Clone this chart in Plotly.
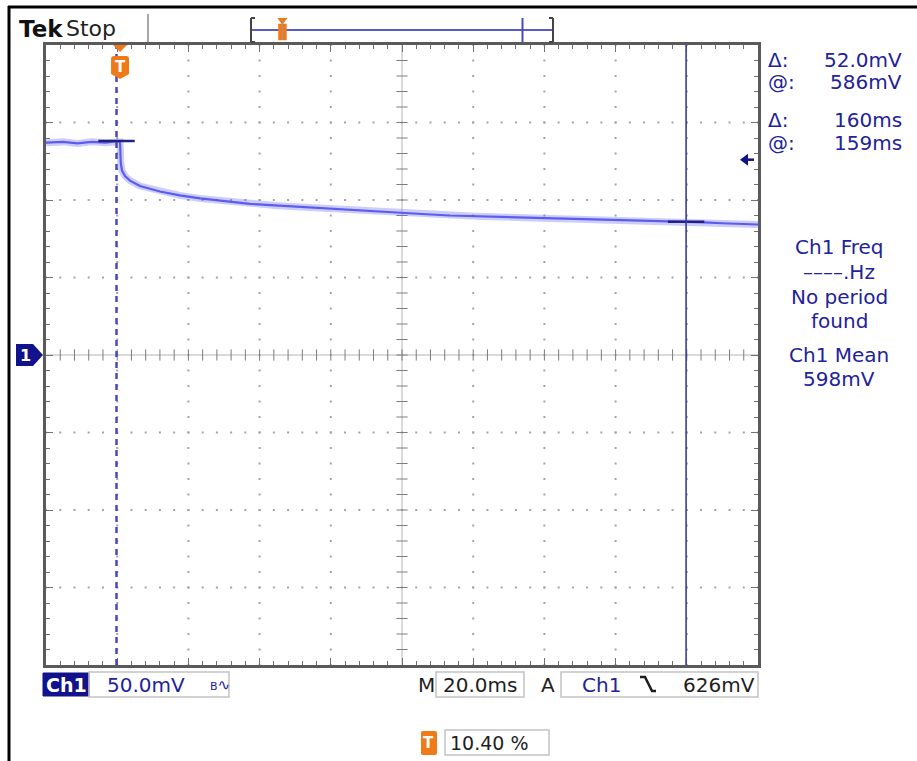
import plotly.graph_objects as go

# ---- acquisition settings -------------------------------------------------
VOLTS_PER_DIV = 50.0        # mV / div
TIME_PER_DIV = 20.0         # ms / div
OFFSET_MV = 500.0           # level at screen centre
TRIGGER_PCT = 10.40         # trigger position, % of record
TRIGGER_LEVEL_MV = 626.0
H_DIVS = 10
V_DIVS = 8
MINOR_PER_DIV = 5

# ---- Ch1 waveform (time relative to trigger) ------------------------------
time_ms = [-20.8, -16.0, -12.0, -8.0, -4.0, -1.0, 0.0, 0.2, 0.55, 1.4,
           2.8, 5.6, 11.2, 16.8, 22.5, 30.0, 36.5, 43.5, 50.6, 57.5,
           64.6, 72.0, 79.8, 86.0, 92.7, 100.0, 106.7, 113.5, 120.8, 127.8,
           134.8, 141.8, 148.9, 154.0, 159.0, 164.0, 169.0, 174.0, 179.2]
ch1_mv = [637.0, 637.5, 636.5, 637.5, 637.0, 638.0, 637.5, 624.0, 619.0, 615.5,
          612.5, 609.0, 605.5, 603.0, 601.0, 599.0, 597.5, 596.5, 595.5, 594.5,
          593.5, 592.5, 591.5, 590.8, 590.0, 589.5, 589.0, 588.5, 588.0, 587.5,
          587.0, 586.8, 586.5, 586.2, 586.0, 585.6, 585.0, 584.6, 584.2]

# ---- cursors and measurements --------------------------------------------
cursor_t = [-1.0, 159.0]     # ms
cursor_v = [638.0, 586.0]    # mV
meas_lines = ["Ch1 Freq", "––––.Hz", "No period", "found", "Ch1 Mean", "598mV"]

# ---- colours --------------------------------------------------------------
NAVY = "#12128c"
TEXT_BLUE = "#22229a"
ORANGE = "#f07a18"
DARK = "#1e1e1e"
BORDER = "#5a5a5a"
BOX = "#c4c4c4"
FONT = "DejaVu Sans"

# ---- screen geometry (pixels in the 917x761 page) -------------------------
L, R, T, B = 46, 758, 45, 665
W, H = R - L, B - T


def px(x):
    return (x - L) / W


def py(y):
    return (B - y) / H


t_span = H_DIVS * TIME_PER_DIV
t_min = -TRIGGER_PCT / 100.0 * t_span
t_max = t_min + t_span
v_min = OFFSET_MV - V_DIVS / 2 * VOLTS_PER_DIV
v_max = OFFSET_MV + V_DIVS / 2 * VOLTS_PER_DIV
t_center = (t_min + t_max) / 2
t_minor = TIME_PER_DIV / MINOR_PER_DIV
v_minor = VOLTS_PER_DIV / MINOR_PER_DIV

fig = go.Figure()

# ---- graticule: dotted division lines -------------------------------------
dot_x, dot_y = [], []
for i in range(1, H_DIVS):
    if i == H_DIVS // 2:
        continue
    xg = t_min + i * TIME_PER_DIV
    for k in range(V_DIVS * MINOR_PER_DIV + 1):
        dot_x.append(xg)
        dot_y.append(v_min + k * v_minor)
for j in range(1, V_DIVS):
    if j == V_DIVS // 2:
        continue
    yg = v_min + j * VOLTS_PER_DIV
    for k in range(H_DIVS * MINOR_PER_DIV + 1):
        dot_x.append(t_min + k * t_minor)
        dot_y.append(yg)
fig.add_trace(go.Scatter(x=dot_x, y=dot_y, mode="markers", hoverinfo="skip",
                         marker=dict(symbol="square", size=2, color="#a4a4a4",
                                     line=dict(width=0))))

# centre cross with minor ticks
fig.add_trace(go.Scatter(x=[t_min, t_max], y=[OFFSET_MV, OFFSET_MV], mode="lines",
                         line=dict(color="#b4b4b4", width=1), hoverinfo="skip"))
fig.add_trace(go.Scatter(x=[t_center, t_center], y=[v_min, v_max], mode="lines",
                         line=dict(color="#b4b4b4", width=1), hoverinfo="skip"))
cx = [t_min + k * t_minor for k in range(1, H_DIVS * MINOR_PER_DIV)]
fig.add_trace(go.Scatter(x=cx, y=[OFFSET_MV] * len(cx), mode="markers", hoverinfo="skip",
                         marker=dict(symbol="line-ns", size=8,
                                     line=dict(width=1, color="#7c7c7c"))))
cy = [v_min + k * v_minor for k in range(1, V_DIVS * MINOR_PER_DIV)]
fig.add_trace(go.Scatter(x=[t_center] * len(cy), y=cy, mode="markers", hoverinfo="skip",
                         marker=dict(symbol="line-ew", size=8,
                                     line=dict(width=1, color="#7c7c7c"))))

# ---- waveform -------------------------------------------------------------
fig.add_trace(go.Scatter(x=time_ms, y=ch1_mv, mode="lines", hoverinfo="skip",
                         line=dict(color="rgba(112,112,246,0.35)", width=7)))
fig.add_trace(go.Scatter(x=time_ms, y=ch1_mv, mode="lines", hoverinfo="skip",
                         line=dict(color="rgba(80,80,236,0.9)", width=2.2)))

# ---- cursors --------------------------------------------------------------
shapes = []
shapes.append(dict(type="line", xref="x", yref="y", x0=cursor_t[0], x1=cursor_t[0],
                   y0=v_min, y1=v_max, line=dict(color="#4848c2", width=2.5, dash="6px,5px")))
shapes.append(dict(type="line", xref="x", yref="y", x0=cursor_t[1], x1=cursor_t[1],
                   y0=v_min, y1=v_max, line=dict(color="#3a3aa6", width=1.6)))
fig.add_trace(go.Scatter(x=cursor_t, y=cursor_v, mode="markers", hoverinfo="skip",
                         marker=dict(symbol="line-ew", size=26,
                                     line=dict(width=2.5, color="#22227c"))))

# trigger position badge on the top edge
shapes.append(dict(type="path", xref="x", yref="paper", xsizemode="pixel", ysizemode="pixel",
                   xanchor=0, yanchor=1, path="M-7,0 L7,0 L0,-7 Z",
                   fillcolor=ORANGE, line=dict(width=0)))
shapes.append(dict(type="path", xref="x", yref="paper", xsizemode="pixel", ysizemode="pixel",
                   xanchor=0, yanchor=1,
                   path="M-9,-14 Q-9,-11 -6,-11 L6,-11 Q9,-11 9,-14 L9,-29 L0,-34 L-9,-29 Z",
                   fillcolor=ORANGE, line=dict(width=0)))

# trigger level arrow at the right edge
shapes.append(dict(type="path", xref="paper", yref="y", xsizemode="pixel", ysizemode="pixel",
                   xanchor=1, yanchor=TRIGGER_LEVEL_MV, path="M-18,0 L-10,6 L-10,-6 Z",
                   fillcolor=NAVY, line=dict(width=0)))
shapes.append(dict(type="path", xref="paper", yref="y", xsizemode="pixel", ysizemode="pixel",
                   xanchor=1, yanchor=TRIGGER_LEVEL_MV, path="M-11,0 L-4,0",
                   line=dict(color=NAVY, width=2.5)))

# channel 1 reference tag at the left edge
shapes.append(dict(type="path", xref="paper", yref="y", xsizemode="pixel", ysizemode="pixel",
                   xanchor=0, yanchor=OFFSET_MV,
                   path="M-30,-11 L-13,-11 L-3,0 L-13,11 L-30,11 Z",
                   fillcolor=NAVY, line=dict(width=0)))

# ---- frame and status bars -------------------------------------------------
def pline(x0, y0, x1, y1, color, width):
    shapes.append(dict(type="line", xref="paper", yref="paper", x0=px(x0), y0=py(y0),
                       x1=px(x1), y1=py(y1), line=dict(color=color, width=width)))


def prect(x0, y0, x1, y1, fill=None, color=BOX, width=1.5):
    shapes.append(dict(type="rect", xref="paper", yref="paper", x0=px(x0), y0=py(y0),
                       x1=px(x1), y1=py(y1), fillcolor=fill or "rgba(0,0,0,0)",
                       line=dict(color=color, width=width)))


pline(8, 7, 920, 7, "#000000", 3)
pline(9, 6, 9, 765, "#000000", 3)
pline(148, 14, 148, 42, "#a8a8a8", 2)

# record view bar
bar_l, bar_r, bar_y = 251, 553, 30
pline(bar_l, bar_y, bar_r, bar_y, "#5a5ac8", 2)
pline(bar_l, 18, bar_l, 42, "#444444", 2)
pline(bar_l, 18, bar_l + 4, 18, "#444444", 2)
pline(bar_l, 42, bar_l + 4, 42, "#444444", 2)
pline(bar_r, 18, bar_r, 42, "#444444", 2)
pline(bar_r - 4, 18, bar_r, 18, "#444444", 2)
pline(bar_r - 4, 42, bar_r, 42, "#444444", 2)
cur_frac = (cursor_t[1] - t_min) / t_span
cx_bar = bar_l + cur_frac * (bar_r - bar_l)
pline(cx_bar, 18, cx_bar, 42, "#4a4ac0", 2)
tx_bar = bar_l + TRIGGER_PCT / 100.0 * (bar_r - bar_l)
prect(tx_bar - 4, 24, tx_bar + 4, 40, fill=ORANGE, color=ORANGE, width=0.5)
shapes.append(dict(type="path", xref="paper", yref="paper",
                   path=f"M{px(tx_bar-5)},{py(18)} L{px(tx_bar+5)},{py(18)} L{px(tx_bar)},{py(25)} Z",
                   fillcolor=ORANGE, line=dict(width=0)))
pline(tx_bar, 20, tx_bar, 40, "#9a9a9a", 1)

# bottom status boxes
prect(43, 673, 89, 696, fill=NAVY, color=NAVY, width=1)
prect(89, 672, 229, 697)
prect(436, 672, 524, 697)
prect(561, 672, 758, 697)
prect(445, 730, 549, 755)
shapes.append(dict(type="path", xref="paper", yref="paper",
                   path=(f"M{px(421)},{py(733)} Q{px(421)},{py(731)} {px(423)},{py(731)} "
                         f"L{px(435)},{py(731)} Q{px(437)},{py(731)} {px(437)},{py(733)} "
                         f"L{px(437)},{py(753)} Q{px(437)},{py(755)} {px(435)},{py(755)} "
                         f"L{px(423)},{py(755)} Q{px(421)},{py(755)} {px(421)},{py(753)} Z"),
                   fillcolor=ORANGE, line=dict(width=0)))
# falling slope glyph
shapes.append(dict(type="path", xref="paper", yref="paper",
                   path=f"M{px(640)},{py(677)} L{px(645)},{py(677)} L{px(652)},{py(691)} L{px(656)},{py(691)}",
                   line=dict(color=DARK, width=2.5)))

# ---- text -----------------------------------------------------------------
ann = []


def text(s, x, y, size, color, anchor="left", bold=False):
    ann.append(dict(text=f"<b>{s}</b>" if bold else s, xref="paper", yref="paper",
                    x=px(x), y=py(y), xanchor=anchor, yanchor="middle", showarrow=False,
                    font=dict(family=FONT, size=size, color=color)))


text("Tek", 17, 29, 23, "#111111", bold=True)
text("Stop", 64, 29, 22, "#222222")

ann.append(dict(text="<b>T</b>", xref="x", yref="paper", x=0, y=1, yshift=-22,
                xanchor="center", yanchor="middle", showarrow=False,
                font=dict(family=FONT, size=15, color="white")))
ann.append(dict(text="<b>1</b>", xref="paper", yref="y", x=0, y=OFFSET_MV, xshift=-21,
                xanchor="center", yanchor="middle", showarrow=False,
                font=dict(family=FONT, size=16, color="white")))

dv = cursor_v[0] - cursor_v[1]
dt = cursor_t[1] - cursor_t[0]
rows = [("Δ:", f"{dv:.1f}mV", 60), ("@:", f"{cursor_v[1]:.0f}mV", 82),
        ("Δ:", f"{dt:.0f}ms", 120), ("@:", f"{cursor_t[1]:.0f}ms", 143)]
for lab, val, yy in rows:
    text(lab, 766, yy, 20, TEXT_BLUE)
    text(val, 904, yy, 20, TEXT_BLUE, anchor="right")

for s, yy in zip(meas_lines, [247, 272, 297, 321, 355, 379]):
    text(s, 839, yy, 20, TEXT_BLUE, anchor="center")

text("Ch1", 66, 685, 19, "white", anchor="center", bold=True)
text(f"{VOLTS_PER_DIV:.1f}mV", 105, 685, 20, TEXT_BLUE)
ann.append(dict(text="<span style='font-size:11px'>B</span><span style='font-size:15px'>∿</span>",
                xref="paper", yref="paper", x=px(220), y=py(685), xanchor="center",
                yanchor="middle", showarrow=False, font=dict(family=FONT, color=TEXT_BLUE)))
text("M", 426, 685, 20, DARK, anchor="center")
text(f"{TIME_PER_DIV:.1f}ms", 480, 685, 20, DARK, anchor="center")
text("A", 548, 685, 20, DARK, anchor="center")
text("Ch1", 601, 685, 20, TEXT_BLUE, anchor="center")
text(f"{TRIGGER_LEVEL_MV:.0f}mV", 757, 685, 20, DARK, anchor="right")
text("<b>T</b>", 429, 743, 15, "white", anchor="center")
text(f"{TRIGGER_PCT:.2f} %", 448, 743, 19, DARK)

# ---- axes and layout -------------------------------------------------------
fig.update_layout(
    width=917, height=761,
    margin=dict(l=L, r=917 - R, t=T, b=761 - B, pad=0),
    paper_bgcolor="white", plot_bgcolor="white",
    showlegend=False, hovermode=False,
    font=dict(family=FONT),
    shapes=shapes, annotations=ann,
    xaxis=dict(range=[t_min, t_max], showgrid=False, zeroline=False, showticklabels=False,
               showline=True, linewidth=3, linecolor=BORDER, mirror="allticks",
               ticks="inside", tickmode="linear", tick0=t_min, dtick=TIME_PER_DIV,
               ticklen=7, tickwidth=1, tickcolor="#707070",
               minor=dict(ticks="inside", tickmode="linear", tick0=t_min, dtick=t_minor,
                          ticklen=4, tickwidth=1, tickcolor="#707070"),
               fixedrange=True),
    yaxis=dict(range=[v_min, v_max], showgrid=False, zeroline=False, showticklabels=False,
               showline=True, linewidth=3, linecolor=BORDER, mirror="allticks",
               ticks="inside", tickmode="linear", tick0=v_min, dtick=VOLTS_PER_DIV,
               ticklen=7, tickwidth=1, tickcolor="#707070",
               minor=dict(ticks="inside", tickmode="linear", tick0=v_min, dtick=v_minor,
                          ticklen=4, tickwidth=1, tickcolor="#707070"),
               fixedrange=True),
)

fig.write_html("out.html")
